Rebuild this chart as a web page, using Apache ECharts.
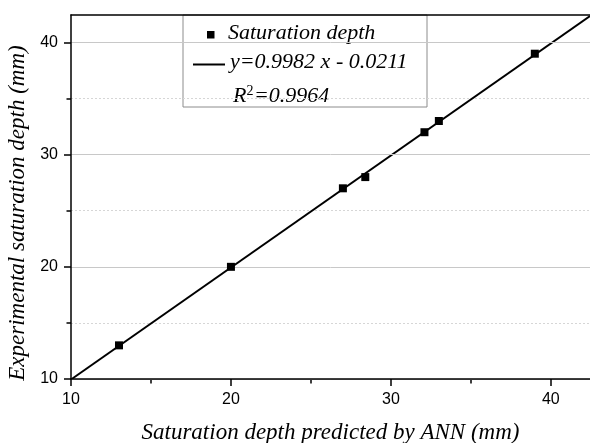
<!DOCTYPE html>
<html>
<head>
<meta charset="utf-8">
<script src="https://cdn.jsdelivr.net/npm/echarts@6/dist/echarts.min.js"></script>
<style>html,body{margin:0;padding:0;background:#fff}#c{width:590px;height:443px}</style>
</head>
<body>
<div id="c"></div>
<script>
// Data
const predicted = [13, 20, 27, 28.4, 32.1, 33, 39];
const experimental = [13, 20, 27, 28, 32, 33, 39];
const fitLine = [[10, 9.96], [42.45, 42.35]];
const majorTicks = [10, 20, 30, 40];
const minorTicks = [15, 25, 35];
const legendLabels = ['Saturation depth', 'y=0.9982 x - 0.0211', 'R', '2', '=0.9964'];

const serif = '"Liberation Serif", "Times New Roman", serif';
const sans = '"Liberation Sans", Arial, sans-serif';
const AX_MIN = 10, AX_MAX = 42.45;

const nameStyle = { fontFamily: serif, fontStyle: 'italic', fontSize: 23, color: '#000' };
const labelStyle = { fontFamily: sans, fontSize: 16, color: '#000' };
const blackLine = { color: '#000', width: 1.5 };

const chart = echarts.init(document.getElementById('c'));
chart.setOption({
  animation: false,
  backgroundColor: '#fff',
  grid: { left: 71, right: 0, top: 15, bottom: 64, containLabel: false, outerBoundsMode: 'none' },
  xAxis: [{
    type: 'value', min: AX_MIN, max: AX_MAX, interval: 10, z: 3,
    name: 'Saturation depth predicted by ANN (mm)',
    nameLocation: 'middle', nameGap: 42, nameTextStyle: nameStyle,
    axisLine: { lineStyle: blackLine },
    axisTick: { show: true, length: 7, customValues: majorTicks, lineStyle: blackLine },
    axisLabel: Object.assign({ margin: 13, customValues: majorTicks }, labelStyle),
    splitLine: { show: false }
  }, {
    type: 'value', position: 'top', min: AX_MIN, max: AX_MAX,
    axisLine: { show: true, onZero: false, lineStyle: blackLine },
    axisTick: { show: false }, axisLabel: { show: false }, splitLine: { show: false }
  }, {
    type: 'value', position: 'bottom', min: AX_MIN, max: AX_MAX, interval: 5,
    axisLine: { show: false },
    axisTick: { show: true, length: 4.5, customValues: minorTicks, lineStyle: blackLine },
    axisLabel: { show: false }, splitLine: { show: false }
  }],
  yAxis: [{
    type: 'value', min: AX_MIN, max: AX_MAX, interval: 10, z: 3,
    name: 'Experimental saturation depth (mm)',
    nameLocation: 'middle', nameGap: 40,
    nameTextStyle: Object.assign({ padding: [0, 32, 0, 0] }, nameStyle),
    axisLine: { show: true, lineStyle: blackLine },
    axisTick: { show: true, length: 7, customValues: majorTicks, lineStyle: blackLine },
    axisLabel: Object.assign({ margin: 13, customValues: majorTicks }, labelStyle),
    splitLine: { show: true, lineStyle: { color: '#c8c8c8', width: 1 } }
  }, {
    type: 'value', position: 'left', min: AX_MIN, max: AX_MAX, interval: 5, z: 1,
    axisLine: { show: false },
    axisTick: { show: true, length: 4.5, customValues: minorTicks, lineStyle: blackLine },
    axisLabel: { show: false },
    splitLine: { show: true, lineStyle: { color: '#d6d6d6', width: 1, type: [2, 2] } }
  }],
  series: [{
    name: 'Fit', type: 'line', data: fitLine, symbol: 'none', z: 2,
    lineStyle: { color: '#000', width: 2 }
  }, {
    name: 'Saturation depth', type: 'scatter', z: 3,
    data: predicted.map((x, i) => [x, experimental[i]]),
    symbol: 'rect', symbolSize: 8, itemStyle: { color: '#000', opacity: 1 }
  }],
  graphic: [{
    type: 'group', z: 100,
    children: [
      { type: 'rect', shape: { x: 183, y: 15, width: 244, height: 92 },
        style: { fill: '#fff', stroke: '#8c8c8c', lineWidth: 1 } },
      { type: 'rect', shape: { x: 207, y: 31, width: 7.5, height: 7.5 }, style: { fill: '#000' } },
      { type: 'text', x: 228, y: 22, style: { text: legendLabels[0], font: 'italic 22px ' + serif, fill: '#000', verticalAlign: 'top' } },
      { type: 'line', shape: { x1: 193, y1: 64.5, x2: 225, y2: 64.5 }, style: { stroke: '#000', lineWidth: 2 } },
      { type: 'text', x: 230, y: 51, style: { text: legendLabels[1], font: 'italic 22px ' + serif, fill: '#000', verticalAlign: 'top' } },
      { type: 'text', x: 233, y: 85.5, style: { text: legendLabels[2], font: 'italic 22px ' + serif, fill: '#000', verticalAlign: 'top' } },
      { type: 'text', x: 246.5, y: 84.5, style: { text: legendLabels[3], font: '14px ' + serif, fill: '#000', verticalAlign: 'top' } },
      { type: 'text', x: 254, y: 85.5, style: { text: legendLabels[4], font: 'italic 22px ' + serif, fill: '#000', verticalAlign: 'top' } }
    ]
  }]
});
</script>
</body>
</html>
